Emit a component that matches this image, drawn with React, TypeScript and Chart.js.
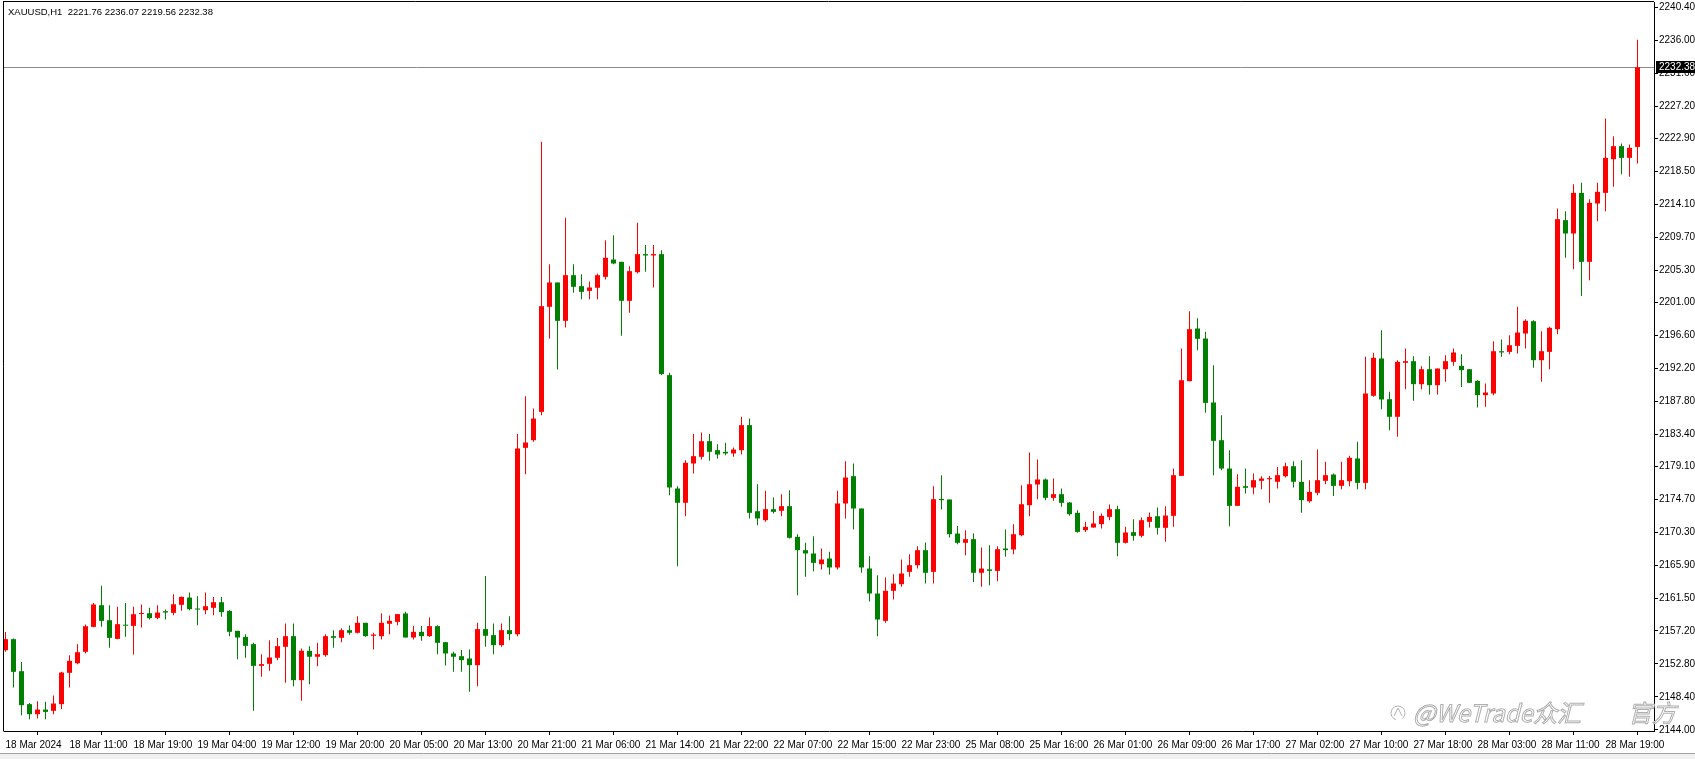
import React, { useEffect, useRef } from 'react';
import { Chart, registerables } from 'chart.js';

Chart.register(...registerables);

const symbolTitle = 'XAUUSD,H1  2221.76 2236.07 2219.56 2232.38';
const lastPrice = 2232.38;

const xTickIdx = [0, 8, 16, 24, 32, 40, 48, 56, 64, 72, 80, 88, 96, 104, 112, 120, 128, 136, 144, 152, 160, 168, 176, 184, 192, 200];
const xTickText = ['18 Mar 2024', '18 Mar 11:00', '18 Mar 19:00', '19 Mar 04:00', '19 Mar 12:00', '19 Mar 20:00', '20 Mar 05:00', '20 Mar 13:00', '20 Mar 21:00', '21 Mar 06:00', '21 Mar 14:00', '21 Mar 22:00', '22 Mar 07:00', '22 Mar 15:00', '22 Mar 23:00', '25 Mar 08:00', '25 Mar 16:00', '26 Mar 01:00', '26 Mar 09:00', '26 Mar 17:00', '27 Mar 02:00', '27 Mar 10:00', '27 Mar 18:00', '28 Mar 03:00', '28 Mar 11:00', '28 Mar 19:00'];

const yTicks = [2144.0, 2148.4, 2152.8, 2157.2, 2161.5, 2165.9, 2170.3, 2174.7, 2179.1, 2183.4, 2187.8, 2192.2, 2196.6, 2201.0, 2205.3, 2209.7, 2214.1, 2218.5, 2222.9, 2227.2, 2231.6, 2236.0, 2240.4];

const opens = [
  2154.63, 2156.10, 2151.83, 2147.43, 2146.09, 2146.71, 2146.54, 2147.43, 2151.61, 2152.89,
  2154.41, 2157.74, 2160.63, 2158.63, 2156.14, 2158.00, 2157.87, 2159.45, 2159.56, 2158.94,
  2159.83, 2159.61, 2160.68, 2161.65, 2160.19, 2159.96, 2160.28, 2161.03, 2159.88, 2157.21,
  2156.41, 2155.44, 2152.54, 2152.81, 2153.61, 2155.08, 2156.50, 2150.63, 2154.55, 2153.75,
  2153.97, 2156.50, 2156.28, 2157.30, 2156.95, 2158.28, 2156.55, 2156.50, 2158.15, 2158.41,
  2159.53, 2156.32, 2157.08, 2156.50, 2157.84, 2155.70, 2154.19, 2153.83, 2153.52, 2152.63,
  2157.44, 2156.64, 2155.30, 2157.30, 2156.77, 2181.62, 2182.64, 2186.42, 2200.43, 2203.68,
  2198.56, 2204.65, 2203.19, 2202.56, 2202.97, 2204.43, 2206.74, 2206.43, 2201.23, 2205.05,
  2207.46, 2207.28, 2207.46, 2191.32, 2176.20, 2174.29, 2179.53, 2180.42, 2182.51, 2181.31,
  2181.09, 2180.87, 2181.31, 2184.65, 2173.17, 2171.97, 2173.44, 2173.22, 2173.84, 2169.75,
  2167.97, 2167.53, 2166.10, 2166.86, 2165.66, 2174.20, 2177.84, 2173.53, 2165.53, 2162.19,
  2158.54, 2162.55, 2163.43, 2165.08, 2165.97, 2167.97, 2165.08, 2174.81, 2174.73, 2170.19,
  2168.95, 2169.44, 2164.95, 2165.41, 2165.21, 2168.19, 2168.06, 2169.97, 2173.97, 2176.73,
  2177.40, 2174.95, 2175.44, 2174.33, 2172.95, 2170.64, 2170.99, 2171.44, 2172.41, 2173.44,
  2168.95, 2170.37, 2169.88, 2171.75, 2172.50, 2170.95, 2172.55, 2177.88, 2190.51, 2197.54,
  2196.20, 2187.67, 2182.64, 2178.86, 2173.88, 2176.51, 2176.33, 2177.22, 2177.44, 2177.09,
  2177.84, 2179.17, 2177.09, 2174.50, 2175.62, 2177.22, 2178.06, 2176.55, 2177.17, 2180.20,
  2176.95, 2188.56, 2193.54, 2188.11, 2185.76, 2192.96, 2193.18, 2190.11, 2192.11, 2189.98,
  2192.11, 2193.09, 2192.56, 2192.11, 2190.56, 2188.65, 2188.87, 2194.51, 2194.42, 2195.22,
  2196.87, 2198.51, 2193.31, 2194.42, 2197.45, 2211.99, 2210.21, 2215.63, 2206.43, 2214.21,
  2215.63, 2220.12, 2221.86, 2220.30, 2221.76
];

const highs = [
  2157.07, 2156.18, 2153.07, 2147.60, 2147.83, 2147.74, 2148.58, 2151.74, 2153.96, 2155.43,
  2158.05, 2160.94, 2163.21, 2160.63, 2160.41, 2160.94, 2160.41, 2160.72, 2160.28, 2160.63,
  2160.05, 2162.10, 2161.80, 2162.32, 2161.83, 2162.32, 2161.74, 2161.74, 2159.97, 2157.21,
  2156.77, 2155.61, 2154.10, 2155.97, 2156.24, 2158.19, 2158.19, 2154.86, 2155.17, 2155.61,
  2156.77, 2157.30, 2157.57, 2157.93, 2159.17, 2158.28, 2156.95, 2159.53, 2159.26, 2159.44,
  2159.75, 2157.84, 2157.84, 2158.99, 2157.97, 2155.70, 2154.41, 2154.64, 2154.72, 2158.28,
  2164.51, 2158.19, 2158.19, 2159.17, 2183.45, 2188.51, 2186.87, 2222.44, 2206.12, 2203.68,
  2212.30, 2206.12, 2204.79, 2203.81, 2204.88, 2209.32, 2209.99, 2206.43, 2205.85, 2211.64,
  2208.66, 2208.66, 2207.99, 2191.63, 2176.51, 2179.98, 2183.45, 2183.67, 2183.45, 2182.11,
  2182.29, 2181.67, 2185.76, 2185.53, 2176.78, 2175.89, 2175.00, 2175.44, 2175.97, 2170.11,
  2168.95, 2169.84, 2168.19, 2167.75, 2175.89, 2179.84, 2179.53, 2173.53, 2167.17, 2164.64,
  2164.33, 2164.77, 2166.72, 2167.44, 2168.50, 2169.00, 2176.50, 2177.97, 2174.73, 2171.21,
  2170.64, 2170.19, 2168.32, 2168.64, 2168.50, 2170.73, 2171.44, 2176.64, 2180.99, 2180.06,
  2177.53, 2177.53, 2176.19, 2174.41, 2173.30, 2171.75, 2173.21, 2172.86, 2174.06, 2173.88,
  2171.08, 2172.10, 2172.33, 2172.99, 2173.66, 2173.84, 2178.86, 2194.87, 2199.85, 2198.92,
  2197.09, 2192.65, 2185.98, 2181.31, 2178.11, 2178.86, 2178.19, 2177.84, 2177.88, 2179.08,
  2179.62, 2179.84, 2179.97, 2177.31, 2181.40, 2179.75, 2178.19, 2179.75, 2180.55, 2182.42,
  2193.76, 2194.29, 2197.31, 2189.09, 2193.31, 2194.87, 2193.85, 2192.51, 2193.85, 2192.20,
  2193.98, 2194.87, 2194.12, 2192.11, 2190.64, 2190.20, 2195.85, 2196.07, 2196.65, 2200.43,
  2198.78, 2198.65, 2197.18, 2197.76, 2213.54, 2213.19, 2216.79, 2216.97, 2214.79, 2216.97,
  2225.55, 2223.19, 2222.21, 2222.08, 2236.07
];

const lows = [
  2154.41, 2149.65, 2145.96, 2145.42, 2145.51, 2145.42, 2146.09, 2146.80, 2149.65, 2152.76,
  2154.18, 2157.70, 2157.74, 2154.94, 2156.10, 2156.41, 2154.05, 2157.65, 2158.72, 2158.76,
  2158.72, 2159.30, 2159.88, 2159.96, 2157.96, 2159.43, 2159.30, 2159.08, 2156.50, 2153.43,
  2153.61, 2146.54, 2151.08, 2151.88, 2153.30, 2150.28, 2149.83, 2147.88, 2150.10, 2152.50,
  2153.75, 2154.95, 2155.70, 2156.68, 2156.86, 2156.41, 2154.72, 2156.06, 2156.77, 2157.97,
  2156.32, 2156.06, 2155.88, 2156.41, 2154.10, 2152.59, 2151.74, 2151.74, 2149.08, 2149.83,
  2155.08, 2154.10, 2155.08, 2155.97, 2156.50, 2178.11, 2182.42, 2185.98, 2196.21, 2192.07,
  2197.67, 2202.30, 2201.45, 2201.45, 2201.45, 2204.07, 2206.12, 2196.56, 2199.63, 2204.88,
  2205.10, 2203.01, 2191.32, 2175.31, 2165.84, 2172.51, 2178.20, 2180.07, 2179.89, 2180.20,
  2180.64, 2180.42, 2180.73, 2172.20, 2171.31, 2171.75, 2172.86, 2172.51, 2169.53, 2161.97,
  2164.42, 2165.17, 2165.39, 2164.73, 2165.39, 2172.20, 2170.73, 2164.95, 2161.12, 2156.50,
  2158.28, 2161.39, 2163.08, 2164.41, 2165.52, 2163.52, 2163.52, 2173.39, 2169.66, 2168.77,
  2167.30, 2163.74, 2163.08, 2163.30, 2163.83, 2167.08, 2167.44, 2169.84, 2172.50, 2174.77,
  2174.64, 2174.55, 2173.75, 2172.55, 2170.28, 2170.41, 2170.99, 2170.86, 2171.97, 2167.17,
  2168.86, 2169.22, 2169.66, 2170.99, 2170.06, 2169.08, 2171.08, 2177.88, 2190.51, 2194.65,
  2186.29, 2177.97, 2178.64, 2171.17, 2173.88, 2175.53, 2175.44, 2176.11, 2174.28, 2176.20,
  2177.66, 2176.33, 2172.95, 2174.28, 2175.31, 2176.77, 2175.21, 2176.11, 2176.51, 2176.11,
  2176.11, 2188.42, 2186.78, 2183.98, 2183.09, 2189.44, 2187.89, 2189.44, 2188.73, 2188.73,
  2190.42, 2192.56, 2189.75, 2190.29, 2187.00, 2187.09, 2188.65, 2193.76, 2194.12, 2194.20,
  2194.87, 2192.29, 2190.42, 2192.11, 2196.78, 2206.96, 2205.45, 2201.89, 2203.98, 2211.85,
  2213.19, 2216.43, 2218.12, 2217.77, 2219.56
];

const closes = [
  2156.10, 2151.74, 2147.29, 2146.09, 2146.71, 2146.40, 2147.52, 2151.65, 2153.21, 2154.36,
  2157.83, 2160.72, 2158.54, 2156.27, 2158.10, 2157.90, 2159.43, 2159.55, 2158.90, 2159.65,
  2159.65, 2160.76, 2161.74, 2160.10, 2160.05, 2160.50, 2161.03, 2159.70, 2157.08, 2156.32,
  2155.21, 2152.54, 2152.77, 2153.66, 2155.17, 2156.50, 2150.63, 2154.55, 2153.75, 2154.10,
  2156.50, 2156.28, 2157.30, 2156.95, 2158.28, 2156.50, 2156.72, 2158.28, 2158.55, 2159.44,
  2156.32, 2157.08, 2156.50, 2157.84, 2155.61, 2154.19, 2153.75, 2153.30, 2152.63, 2157.44,
  2156.55, 2155.30, 2157.30, 2156.77, 2181.53, 2182.33, 2185.53, 2200.52, 2203.68, 2198.56,
  2204.65, 2203.10, 2202.43, 2203.01, 2204.65, 2206.97, 2206.21, 2201.23, 2205.19, 2207.46,
  2207.28, 2207.46, 2191.45, 2176.33, 2174.29, 2179.62, 2180.51, 2182.51, 2181.09, 2180.73,
  2180.87, 2181.40, 2184.65, 2172.95, 2172.20, 2173.44, 2173.08, 2173.84, 2169.62, 2167.97,
  2167.53, 2166.28, 2166.73, 2165.66, 2174.20, 2177.66, 2173.53, 2165.66, 2162.19, 2158.72,
  2162.55, 2163.52, 2164.86, 2165.97, 2167.97, 2164.95, 2174.77, 2174.64, 2170.10, 2168.95,
  2169.44, 2164.95, 2165.52, 2165.21, 2168.10, 2167.97, 2170.10, 2174.10, 2176.77, 2177.40,
  2174.95, 2175.44, 2174.28, 2172.77, 2170.41, 2171.08, 2171.53, 2172.55, 2173.44, 2168.95,
  2170.33, 2169.88, 2171.97, 2172.41, 2170.95, 2172.59, 2177.97, 2190.64, 2197.45, 2196.16,
  2187.62, 2182.55, 2178.86, 2173.88, 2176.42, 2176.29, 2177.31, 2177.53, 2177.58, 2177.97,
  2179.17, 2177.09, 2174.64, 2175.75, 2177.31, 2177.97, 2176.55, 2177.31, 2180.29, 2176.95,
  2188.87, 2193.63, 2188.07, 2185.76, 2193.09, 2193.18, 2190.11, 2192.11, 2189.98, 2192.20,
  2193.18, 2194.34, 2191.98, 2190.29, 2188.65, 2189.00, 2194.51, 2194.34, 2195.31, 2197.00,
  2198.56, 2193.31, 2194.51, 2197.63, 2212.12, 2210.21, 2215.63, 2206.43, 2214.30, 2215.77,
  2220.30, 2221.86, 2220.30, 2221.63, 2232.38
];

const BULL = '#ff0000';
const BEAR = '#008000';
const FONT = '"Liberation Sans", Arial, sans-serif';
const X_MIN = -0.1875;
const X_MAX = 206.0625;
const Y_MIN = 2143.85;
const Y_MAX = 2241.09;

export default function App() {
  const ref = useRef<HTMLCanvasElement>(null);

  useEffect(() => {
    const canvas = ref.current;
    if (!canvas) return;
    const idx = opens.map((_, i) => i);
    const colors = idx.map((i) => (closes[i] > opens[i] ? BULL : BEAR));

    const overlay = {
      id: 'mt4overlay',
      beforeDatasetsDraw(chart: any) {
        const { ctx, chartArea } = chart;
        const y = Math.round(chart.scales.y.getPixelForValue(lastPrice)) + 0.5;
        ctx.save();
        ctx.strokeStyle = '#8a8a8a';
        ctx.lineWidth = 1;
        ctx.beginPath();
        ctx.moveTo(chartArea.left, y);
        ctx.lineTo(chartArea.right, y);
        ctx.stroke();
        ctx.restore();
      },
      afterDraw(chart: any) {
        const { ctx, chartArea } = chart;
        ctx.save();
        // frame
        ctx.strokeStyle = '#000';
        ctx.lineWidth = 1;
        ctx.beginPath();
        ctx.moveTo(3.5, 1);
        ctx.lineTo(3.5, chartArea.bottom + 0.5);
        ctx.moveTo(3, 1.5);
        ctx.lineTo(chartArea.right, 1.5);
        ctx.stroke();
        // header
        ctx.fillStyle = '#000';
        ctx.font = '9.5px ' + FONT;
        ctx.textBaseline = 'middle';
        ctx.textAlign = 'left';
        ctx.fillText(symbolTitle, 8, 12);
        // last price box
        const y = Math.round(chart.scales.y.getPixelForValue(lastPrice));
        ctx.fillStyle = '#000';
        ctx.fillRect(chartArea.right + 2, y - 6, 41, 12);
        ctx.fillStyle = '#fff';
        ctx.font = '10px ' + FONT;
        ctx.fillText(lastPrice.toFixed(2), chartArea.right + 5, y + 0.5);
        // watermark
        ctx.font = 'italic 24px "Noto Sans CJK SC", "Noto Sans", sans-serif';
        ctx.textBaseline = 'alphabetic';
        ctx.lineWidth = 1;
        ctx.strokeStyle = '#b0b0b0';
        ctx.fillStyle = 'rgba(255,255,255,0.55)';
        ctx.fillText('@WeTrade众汇', 1413, 722);
        ctx.strokeText('@WeTrade众汇', 1413, 722);
        ctx.fillText('官方', 1628, 722);
        ctx.strokeText('官方', 1628, 722);
        // small logo mark
        ctx.beginPath();
        ctx.arc(1398, 713, 7, Math.PI * 0.6, Math.PI * 2.3);
        ctx.stroke();
        ctx.beginPath();
        ctx.moveTo(1394, 716);
        ctx.lineTo(1398, 708);
        ctx.lineTo(1402, 716);
        ctx.stroke();
        // bottom strip
        ctx.fillStyle = '#f0f0f0';
        ctx.fillRect(0, 754, 1695, 5);
        ctx.strokeStyle = '#a0a0a0';
        ctx.beginPath();
        ctx.moveTo(0, 753.5);
        ctx.lineTo(1695, 753.5);
        ctx.stroke();
        ctx.restore();
      },
    };

    const chart = new Chart(canvas, {
      type: 'bar',
      data: {
        datasets: [
          {
            label: 'wick',
            data: idx.map((i) => ({ x: i, y: [lows[i], highs[i]] })) as any,
            backgroundColor: colors,
            barThickness: 1,
            grouped: false,
            inflateAmount: 0,
            borderWidth: 0,
            order: 2,
          } as any,
          {
            label: 'body',
            data: idx.map((i) => ({ x: i, y: [opens[i], closes[i]] })) as any,
            backgroundColor: colors,
            barThickness: 5,
            minBarLength: 1,
            grouped: false,
            inflateAmount: 0,
            borderWidth: 0,
            order: 1,
          } as any,
        ],
      },
      options: {
        animation: false,
        responsive: false,
        devicePixelRatio: 1,
        layout: { padding: { left: 4, top: 2, right: 0, bottom: 0 } },
        plugins: {
          legend: { display: false },
          tooltip: { enabled: false },
        },
        scales: {
          x: {
            type: 'linear',
            min: X_MIN,
            max: X_MAX,
            offset: false,
            afterBuildTicks: (s: any) => {
              s.ticks = xTickIdx.map((v) => ({ value: v }));
            },
            afterFit: (s: any) => {
              s.height = 28;
              s.paddingLeft = 0;
              s.paddingRight = 0;
            },
            ticks: {
              autoSkip: false,
              maxRotation: 0,
              minRotation: 0,
              align: 'start',
              padding: 4,
              color: '#000',
              font: { family: FONT, size: 10 },
              callback: (v: any) => {
                const k = xTickIdx.indexOf(Number(v));
                return k >= 0 ? xTickText[k] : '';
              },
            },
            grid: { drawOnChartArea: false, drawTicks: true, tickLength: 4, color: '#000' },
            border: { display: true, color: '#000' },
          } as any,
          y: {
            type: 'linear',
            position: 'right',
            min: Y_MIN,
            max: Y_MAX,
            afterBuildTicks: (s: any) => {
              s.ticks = yTicks.map((v) => ({ value: v }));
            },
            afterFit: (s: any) => {
              s.width = 41;
              s.paddingTop = 0;
              s.paddingBottom = 0;
            },
            ticks: {
              autoSkip: false,
              padding: 1,
              color: '#000',
              font: { family: FONT, size: 10 },
              callback: (v: any) => Number(v).toFixed(2),
            },
            grid: { drawOnChartArea: false, drawTicks: true, tickLength: 4, color: '#000' },
            border: { display: true, color: '#000' },
          } as any,
        },
      },
      plugins: [overlay],
    });
    return () => chart.destroy();
  }, []);

  return (
    <div style={{ position: 'fixed', left: 0, top: 0, width: 1695, height: 759, background: '#fff' }}>
      <canvas ref={ref} width={1695} height={759} style={{ display: 'block', width: 1695, height: 759 }} />
    </div>
  );
}
